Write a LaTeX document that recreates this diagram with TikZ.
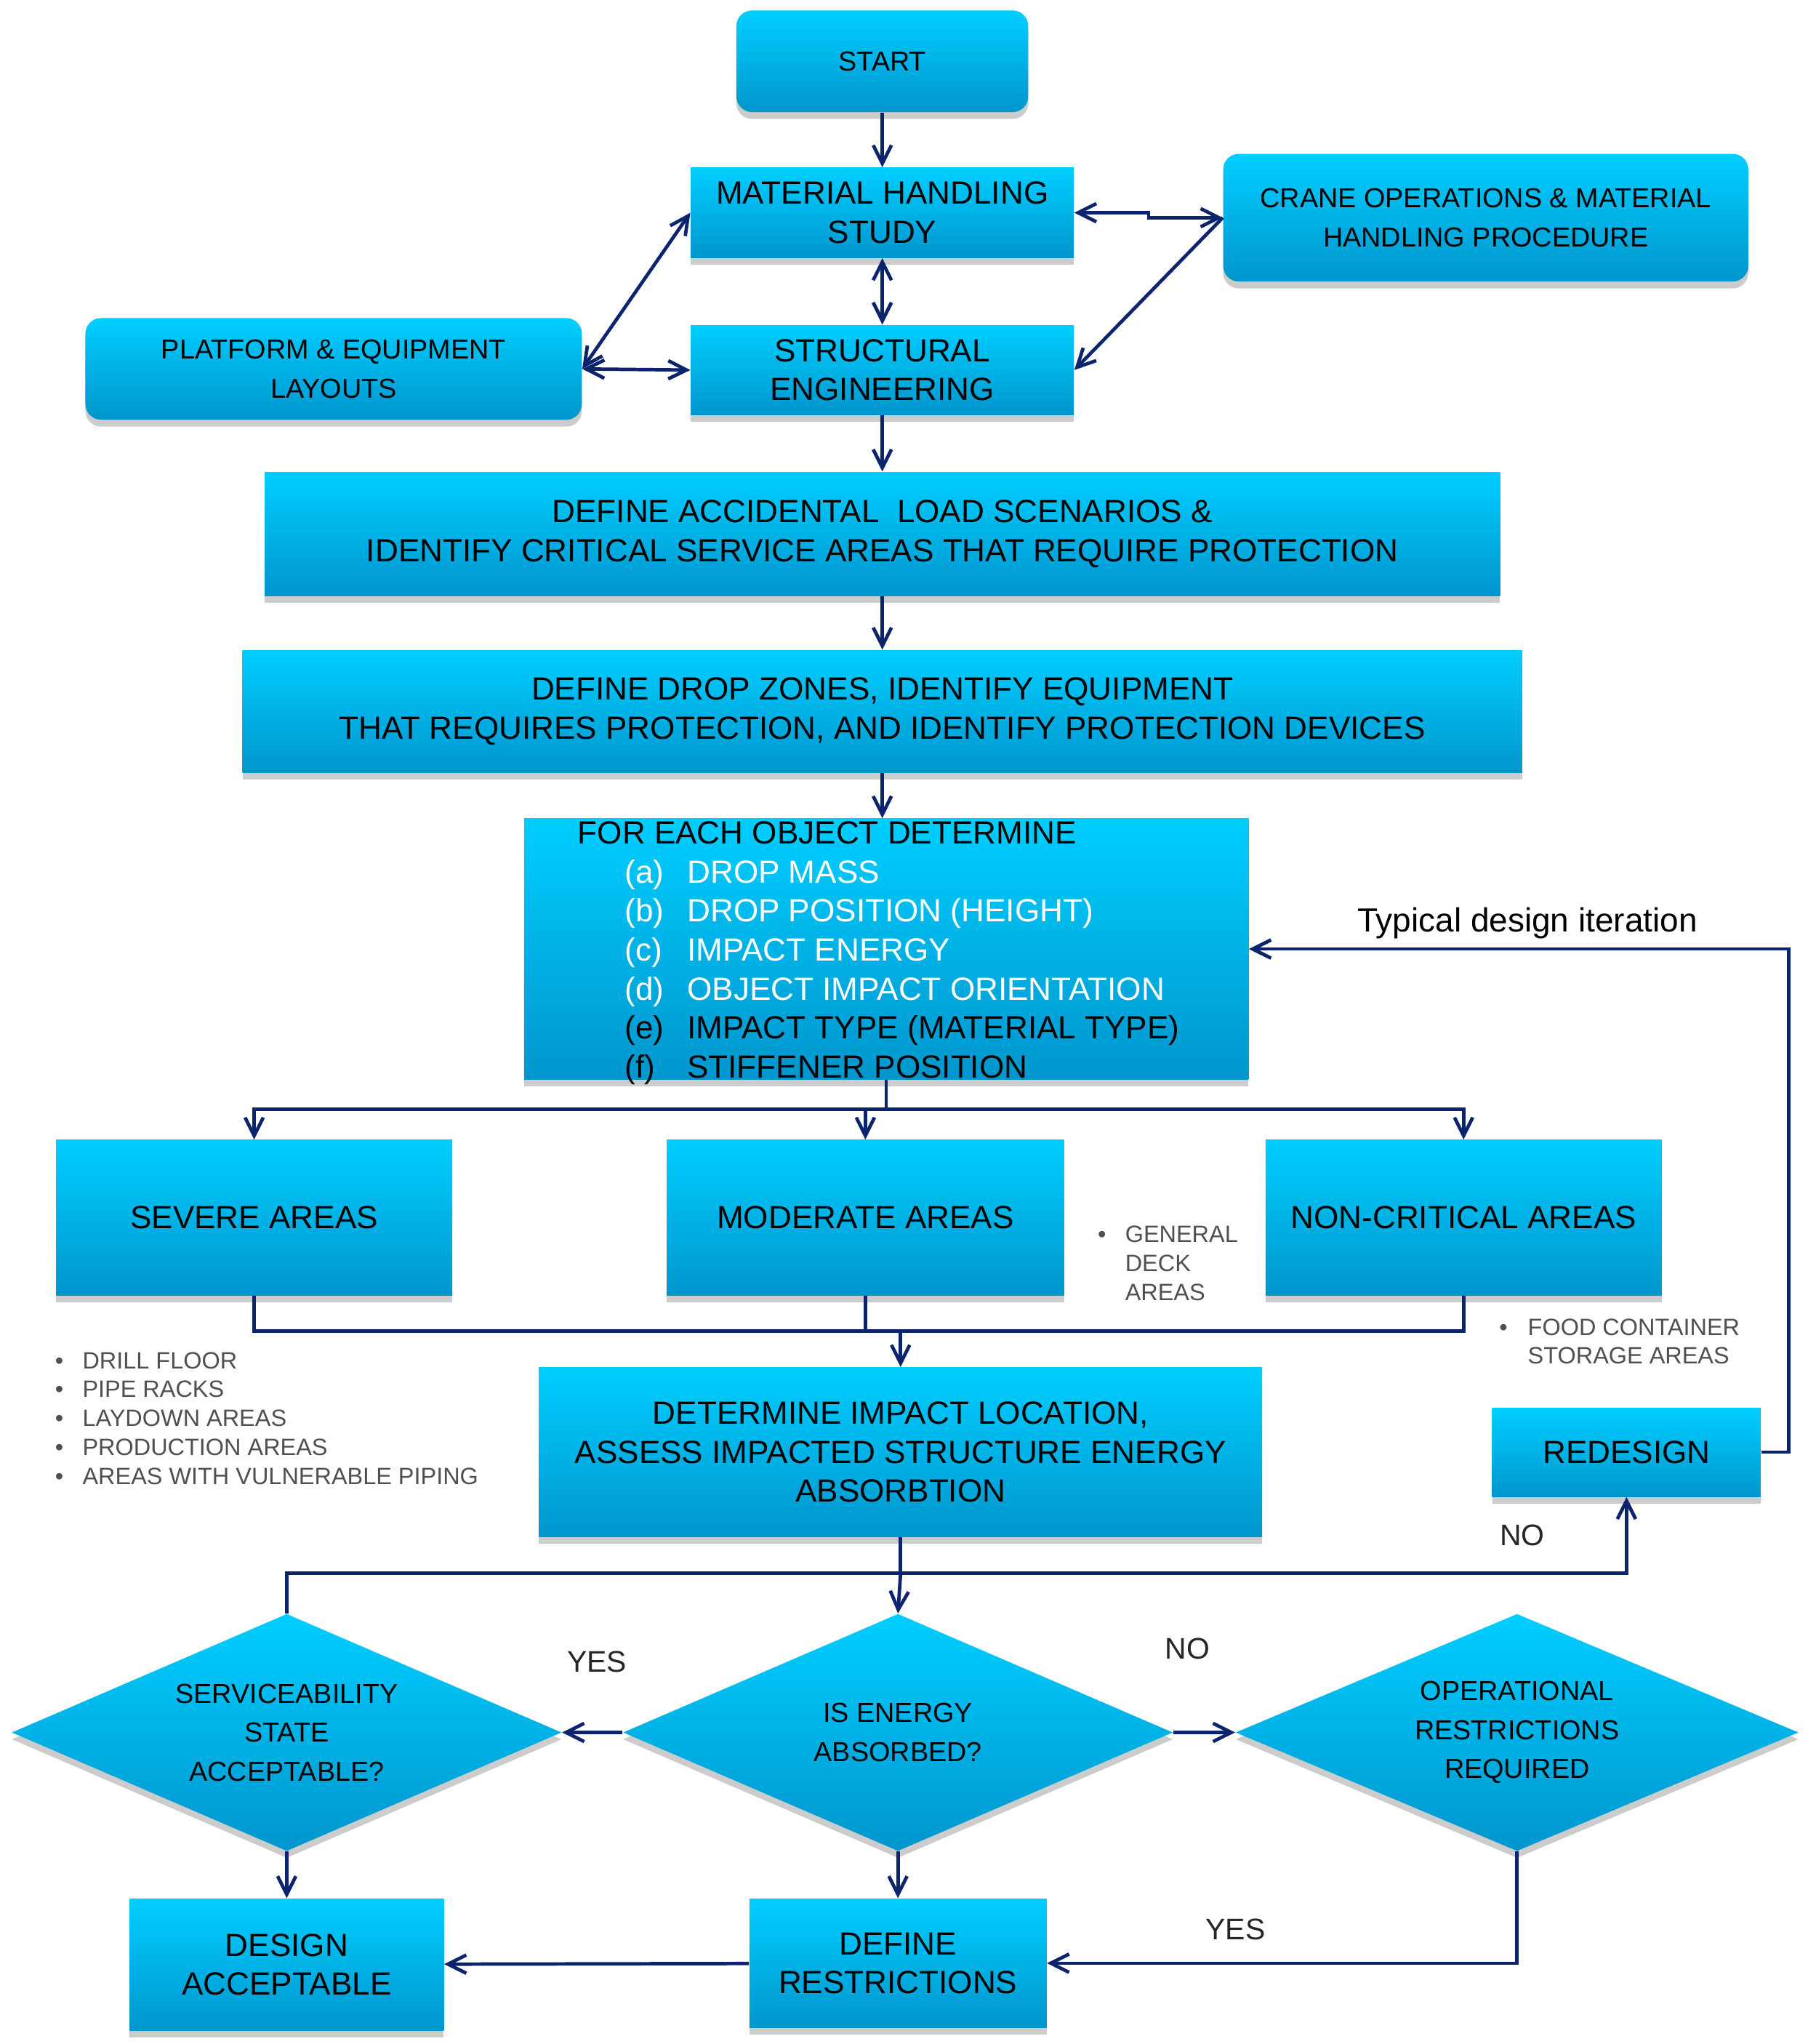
\documentclass[tikz,border=0pt]{standalone}
\usepackage{fontspec}
\setmainfont{Liberation Sans}
\usepackage{xcolor}
\usepackage{tikz}
\definecolor{boxtop}{RGB}{0, 206, 255}
\definecolor{boxbottom}{RGB}{0, 150, 205}
\definecolor{flowblue}{RGB}{12, 36, 110}
\definecolor{notegray}{RGB}{80, 80, 80}
\usetikzlibrary{shapes.geometric,arrows.meta,positioning,calc,shadows}

\begin{document}
\begin{tikzpicture}[
    x=0.02cm, y=-0.02cm,
    every node/.style={align=center},
    box/.style={top color=boxtop, bottom color=boxbottom, inner sep=2pt,
        drop shadow={shadow xshift=0pt, shadow yshift=-3pt, opacity=0.4},
        font=\fontsize{14}{17}\selectfont},
    roundbox/.style={box, rounded corners=0.24cm, font=\fontsize{12}{17}\selectfont},
    decision/.style={box, diamond, shape aspect=2.32, inner sep=0pt,
        minimum height=3.64cm, font=\fontsize{12}{17}\selectfont},
    arrow/.style={->, >={Straight Barb[length=2.8mm,width=2.8mm]}, line width=1.5pt, flowblue},
    line/.style={line width=1.5pt, flowblue},
    note/.style={align=left, inner sep=0pt, text=notegray, font=\fontsize{10.3}{12.6}\selectfont},
    answer/.style={text=black!85, font=\fontsize{13}{15}\selectfont}
]
    \useasboundingbox (0,0) rectangle (1387,1568);

    % Top of the study
    \node[roundbox, minimum width=4.48cm, minimum height=1.56cm] (start) at (677,47) {START};
    \node[box, minimum width=5.88cm, minimum height=1.38cm, below=0.84cm of start] (mhs) {MATERIAL HANDLING\\STUDY};
    \node[box, minimum width=5.88cm, minimum height=1.38cm, below=1.02cm of mhs] (struct) {STRUCTURAL\\ENGINEERING};
    \node[roundbox, minimum width=8.06cm, minimum height=1.96cm] (crane) at (1140,167) {CRANE OPERATIONS \& MATERIAL\\HANDLING PROCEDURE};
    \node[roundbox, minimum width=7.62cm, minimum height=1.56cm] (platform) at (256,283) {PLATFORM \& EQUIPMENT\\LAYOUTS};

    % Scenario definition
    \node[box, minimum width=18.96cm, minimum height=1.9cm, below=0.86cm of struct] (loads) {DEFINE ACCIDENTAL\ \ LOAD SCENARIOS \&\\IDENTIFY CRITICAL SERVICE AREAS THAT REQUIRE PROTECTION};
    \node[box, minimum width=19.64cm, minimum height=1.88cm, below=0.82cm of loads] (zones) {DEFINE DROP ZONES, IDENTIFY EQUIPMENT\\THAT REQUIRES PROTECTION, AND IDENTIFY PROTECTION DEVICES};
    \node[box, minimum width=11.12cm, minimum height=4cm] (object) at (680,728) {};
    \node[anchor=north west, align=left, inner sep=0pt, font=\fontsize{14}{17}\selectfont] (objlist) at (443,630) {
        FOR EACH OBJECT DETERMINE\\
        \hspace*{0.72cm}{\color{white}\makebox[0.96cm][l]{(a)}DROP MASS}\\
        \hspace*{0.72cm}{\color{white}\makebox[0.96cm][l]{(b)}DROP POSITION (HEIGHT)}\\
        \hspace*{0.72cm}{\color{white}\makebox[0.96cm][l]{(c)}IMPACT ENERGY}\\
        \hspace*{0.72cm}{\color{white}\makebox[0.96cm][l]{(d)}OBJECT IMPACT ORIENTATION}\\
        \hspace*{0.72cm}\makebox[0.96cm][l]{(e)}IMPACT TYPE (MATERIAL TYPE)\\
        \hspace*{0.72cm}\makebox[0.96cm][l]{(f)}STIFFENER POSITION
    };

    % Area classes
    \node[box, minimum width=6.08cm, minimum height=2.38cm] (severe) at (195,934) {SEVERE AREAS};
    \node[box, minimum width=6.1cm, minimum height=2.38cm] (moderate) at (664,934) {MODERATE AREAS};
    \node[box, minimum width=6.08cm, minimum height=2.38cm] (noncrit) at (1123,934) {NON-CRITICAL AREAS};
    \node[note, anchor=west] (severenote) at (42,1088) {
        \makebox[0.42cm][l]{\textbullet}DRILL FLOOR\\
        \makebox[0.42cm][l]{\textbullet}PIPE RACKS\\
        \makebox[0.42cm][l]{\textbullet}LAYDOWN AREAS\\
        \makebox[0.42cm][l]{\textbullet}PRODUCTION AREAS\\
        \makebox[0.42cm][l]{\textbullet}AREAS WITH VULNERABLE PIPING};
    \node[note, anchor=west] (moderatenote) at (842,969) {
        \makebox[0.42cm][l]{\textbullet}GENERAL\\
        \hspace*{0.42cm}DECK\\
        \hspace*{0.42cm}AREAS};
    \node[note, anchor=west] (noncritnote) at (1150,1029) {
        \makebox[0.44cm][l]{\textbullet}FOOD CONTAINER\\
        \hspace*{0.44cm}STORAGE AREAS};

    % Assessment
    \node[box, minimum width=11.1cm, minimum height=2.6cm] (assess) at (691,1114) {DETERMINE IMPACT LOCATION,\\ASSESS IMPACTED STRUCTURE ENERGY\\ABSORBTION};
    \node[box, minimum width=4.12cm, minimum height=1.36cm] (redesign) at (1248,1114) {REDESIGN};

    % Decisions
    \node[decision, minimum width=8.44cm] (service) at (220,1329) {SERVICEABILITY\\STATE\\ACCEPTABLE?};
    \node[decision, minimum width=8.44cm] (energy) at (689,1329) {IS ENERGY\\ABSORBED?};
    \node[decision, minimum width=8.64cm] (operation) at (1164,1329) {OPERATIONAL\\RESTRICTIONS\\REQUIRED};
    \node[box, minimum width=4.82cm, minimum height=2.02cm] (accept) at (220,1507) {DESIGN\\ACCEPTABLE};
    \node[box, minimum width=4.56cm, minimum height=1.98cm] (restrict) at (689,1506) {DEFINE\\RESTRICTIONS};

    % Arrows at the top
    \draw[arrow] (start) -- (mhs);
    \draw[arrow, <->] (mhs.east) -- ++(57,0) |- (crane.west);
    \draw[arrow, <->] (mhs) -- (struct);
    \draw[arrow, <->] (platform.east) -- (mhs.west);
    \draw[arrow, <->] (platform.east) -- (struct.west);
    \draw[arrow] (crane.west) -- (struct.east);
    \draw[arrow] (struct) -- (loads);
    \draw[arrow] (loads) -- (zones);
    \draw[arrow] (zones.south) -- (object.north -| zones.south);

    % Split into the area classes and merge again
    \coordinate (split) at (680,851);
    \coordinate (merge) at (691,1021);
    \draw[line] (object.south) -- (split);
    \draw[arrow] (split) -| (severe);
    \draw[arrow] (split) -| (moderate);
    \draw[arrow] (split) -| (noncrit);
    \draw[line] (severe) |- (merge);
    \draw[line] (moderate) |- (merge);
    \draw[line] (noncrit) |- (merge);
    \draw[arrow] (merge) -- (assess);

    % Decision paths
    \coordinate (branch) at (691,1207);
    \draw[line] (assess) -- (branch);
    \draw[line] (branch) -| (service.north);
    \draw[arrow] (branch) -| (redesign.south);
    \draw[arrow] (branch) -- (energy.north);
    \draw[arrow] (redesign.east) -- ++(21,0) |- (object.east);
    \node[font=\fontsize{14.6}{17}\selectfont] (iteration) at (1172,708) {Typical design iteration};
    \draw[arrow] (energy.west) -- (service.east);
    \draw[arrow] (energy.east) -- (operation.west);
    \draw[arrow] (service) -- (accept);
    \draw[arrow] (energy) -- (restrict);
    \draw[arrow] (operation.south) |- (restrict.east);
    \draw[arrow] (restrict) -- (accept);

    % Answers
    \node[answer] (yesleft) at (458,1275) {YES};
    \node[answer] (noright) at (911,1265) {NO};
    \node[answer] (noredesign) at (1168,1178) {NO};
    \node[answer] (yesbottom) at (948,1480) {YES};
\end{tikzpicture}
\end{document}
